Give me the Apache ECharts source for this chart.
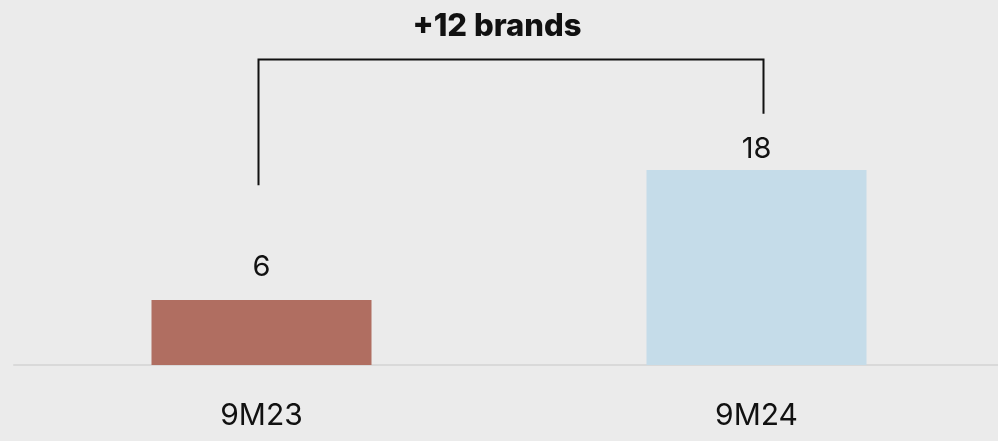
<!DOCTYPE html>
<html><head><meta charset="utf-8">
<script src="https://cdn.jsdelivr.net/npm/echarts@6/dist/echarts.min.js"></script>
<style>html,body{margin:0;padding:0;background:#ebebeb}#c{width:998px;height:441px}</style>
</head><body><div id="c"></div>
<script>
const categories = ['9M23', '9M24'];
const values = [6, 18];
const barColors = ['#b06e61', '#c5dce9'];
const annotationText = '+12 brands';

const FONT = 'Inter, "Noto Sans", sans-serif';
const labelDistances = [18, 6];
const chart = echarts.init(document.getElementById('c'), null, {renderer: 'canvas'});
chart.setOption({
  backgroundColor: '#ebebeb',
  animation: false,
  grid: {left: 14, width: 990, top: 40, bottom: 76, containLabel: false, outerBoundsMode: 'none'},
  xAxis: {
    type: 'category', data: categories,
    axisLine: {show: true, lineStyle: {color: '#d9d9d9', width: 2}},
    axisTick: {show: false},
    axisLabel: {color: '#111', fontSize: 30, fontFamily: FONT, margin: 36}
  },
  yAxis: {type: 'value', min: 0, max: 30, show: false, splitLine: {show: false}},
  series: [{
    type: 'bar', barWidth: 220,
    data: values.map((v, i) => ({value: v, itemStyle: {color: barColors[i]},
      label: {distance: labelDistances[i]}})),
    label: {show: true, position: 'top', color: '#111', fontSize: 29, fontFamily: FONT}
  }]
});

function drawBracket() {
  const p0 = chart.convertToPixel({xAxisIndex: 0, yAxisIndex: 0}, [0, 16.6]);
  const top = chart.convertToPixel({xAxisIndex: 0, yAxisIndex: 0}, [0, 28.2]);
  const p1 = chart.convertToPixel({xAxisIndex: 0, yAxisIndex: 0}, [1, 23.2]);
  const x0 = p0[0] - 3, x1 = p1[0] + 7, yt = top[1];
  chart.setOption({
    graphic: [
      {type: 'polyline', shape: {points: [[x0, p0[1]], [x0, yt], [x1, yt], [x1, p1[1]]]},
       style: {stroke: '#111', lineWidth: 2, fill: null}},
      {type: 'text', x: (x0 + x1) / 2 - 14, y: 27,
       style: {text: annotationText, fill: '#111', font: '800 31px ' + FONT, align: 'center', verticalAlign: 'middle'}}
    ]
  });
}
drawBracket();
</script></body></html>
